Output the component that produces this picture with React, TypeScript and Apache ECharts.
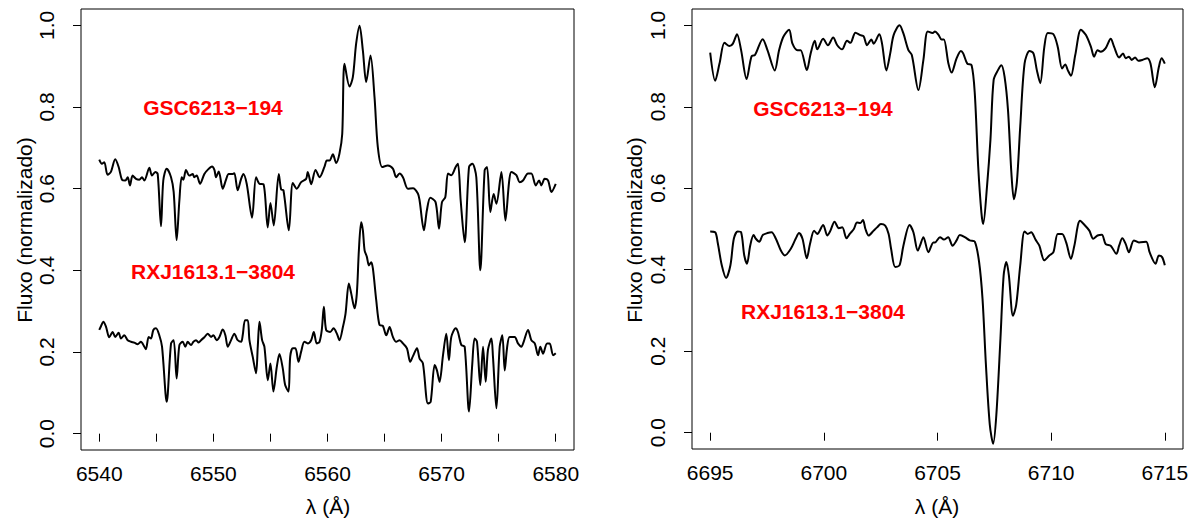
import React, { useEffect, useRef } from "react";
import * as echarts from "echarts";

// ---- Left panel (H-alpha region) ----
const haXTicks = [6540, 6545, 6550, 6555, 6560, 6565, 6570, 6575, 6580];
const haXLabels = [6540, 6550, 6560, 6570, 6580];
const liXTicks = [6695, 6700, 6705, 6710, 6715];
const liXLabels = [6695, 6700, 6705, 6710, 6715];
const yTicks = [0, 0.2, 0.4, 0.6, 0.8, 1.0];

const gscHaLambda = [
  6540.00, 6540.23, 6540.44, 6540.73, 6541.02, 6541.40, 6541.70, 6541.99, 6542.28, 6542.49,
  6542.69, 6542.92, 6543.22, 6543.51, 6543.74, 6543.95, 6544.39, 6544.62, 6544.91, 6545.12,
  6545.41, 6545.61, 6545.91, 6546.29, 6546.52, 6546.78, 6547.02, 6547.22, 6547.37, 6547.60,
  6547.89, 6548.19, 6548.33, 6548.54, 6548.83, 6549.21, 6549.50, 6549.88, 6550.09, 6550.23,
  6550.47, 6550.82, 6551.11, 6551.34, 6551.70, 6551.84, 6552.13, 6552.43, 6552.63, 6552.92,
  6553.39, 6553.74, 6554.04, 6554.39, 6554.76, 6555.00, 6555.29, 6555.73, 6555.94, 6556.14,
  6556.61, 6556.96, 6557.31, 6557.69, 6558.13, 6558.27, 6558.57, 6558.95, 6559.30, 6559.74,
  6559.94, 6560.18, 6560.47, 6560.76, 6561.05, 6561.29, 6561.49, 6561.93, 6562.22, 6562.51,
  6562.81, 6563.10, 6563.39, 6563.77, 6564.12, 6564.41, 6564.80, 6565.29, 6565.73, 6566.02,
  6566.31, 6566.61, 6567.05, 6567.49, 6567.92, 6568.07, 6568.45, 6568.71, 6569.01, 6569.47,
  6569.77, 6570.03, 6570.32, 6570.56, 6570.85, 6571.23, 6571.43, 6571.67, 6572.02, 6572.40,
  6572.69, 6573.04, 6573.39, 6573.77, 6573.98, 6574.27, 6574.56, 6574.80, 6575.24, 6575.59,
  6575.91, 6576.11, 6576.55, 6576.84, 6577.13, 6577.57, 6577.86, 6578.25, 6578.54, 6578.74,
  6579.03, 6579.33, 6579.62, 6580.00,
];
const gscHaFlux = [
  0.671, 0.661, 0.665, 0.634, 0.641, 0.672, 0.653, 0.622, 0.620, 0.628,
  0.608, 0.632, 0.624, 0.622, 0.628, 0.620, 0.651, 0.632, 0.641, 0.636,
  0.508, 0.620, 0.649, 0.628, 0.592, 0.474, 0.571, 0.628, 0.622, 0.646,
  0.632, 0.636, 0.628, 0.632, 0.612, 0.636, 0.646, 0.654, 0.646, 0.628,
  0.642, 0.600, 0.622, 0.636, 0.636, 0.638, 0.596, 0.624, 0.636, 0.612,
  0.529, 0.628, 0.612, 0.611, 0.505, 0.565, 0.510, 0.636, 0.598, 0.596,
  0.498, 0.614, 0.600, 0.616, 0.624, 0.641, 0.611, 0.646, 0.628, 0.654,
  0.669, 0.669, 0.684, 0.663, 0.686, 0.734, 0.906, 0.850, 0.873, 0.955,
  0.999, 0.938, 0.861, 0.926, 0.824, 0.702, 0.653, 0.657, 0.649, 0.628,
  0.637, 0.628, 0.600, 0.601, 0.588, 0.571, 0.498, 0.547, 0.578, 0.567,
  0.502, 0.567, 0.579, 0.637, 0.633, 0.653, 0.661, 0.571, 0.469, 0.653,
  0.661, 0.628, 0.400, 0.645, 0.653, 0.543, 0.587, 0.563, 0.641, 0.522,
  0.616, 0.641, 0.633, 0.616, 0.620, 0.637, 0.637, 0.608, 0.620, 0.608,
  0.624, 0.620, 0.592, 0.612,
];

const rxjHaLambda = [
  6540.00, 6540.15, 6540.35, 6540.58, 6540.88, 6541.17, 6541.40, 6541.70, 6541.90, 6542.19,
  6542.49, 6542.78, 6543.07, 6543.36, 6543.65, 6543.95, 6544.09, 6544.33, 6544.53, 6544.74,
  6544.97, 6545.26, 6545.50, 6545.91, 6546.29, 6546.52, 6546.78, 6547.02, 6547.31, 6547.54,
  6547.75, 6548.04, 6548.25, 6548.48, 6548.71, 6548.92, 6549.21, 6549.50, 6549.80, 6550.00,
  6550.29, 6550.53, 6550.82, 6551.05, 6551.26, 6551.55, 6551.84, 6551.99, 6552.13, 6552.43,
  6552.57, 6552.78, 6553.01, 6553.16, 6553.45, 6553.74, 6553.89, 6554.04, 6554.27, 6554.47,
  6554.77, 6555.00, 6555.26, 6555.56, 6555.79, 6556.08, 6556.29, 6556.58, 6556.73, 6556.96,
  6557.19, 6557.46, 6557.69, 6557.98, 6558.27, 6558.57, 6558.80, 6559.06, 6559.30, 6559.50,
  6559.68, 6559.88, 6560.23, 6560.53, 6560.82, 6561.05, 6561.35, 6561.58, 6561.87, 6562.08,
  6562.37, 6562.57, 6562.75, 6562.95, 6563.10, 6563.25, 6563.45, 6563.63, 6563.83, 6563.98,
  6564.27, 6564.56, 6564.85, 6565.15, 6565.44, 6565.73, 6566.02, 6566.32, 6566.61, 6566.96,
  6567.25, 6567.49, 6567.84, 6568.07, 6568.36, 6568.80, 6569.04, 6569.39, 6569.59, 6569.82,
  6570.12, 6570.41, 6570.64, 6570.85, 6571.23, 6571.43, 6571.73, 6572.02, 6572.40, 6572.69,
  6572.89, 6573.10, 6573.39, 6573.63, 6573.86, 6574.06, 6574.36, 6574.50, 6574.80, 6575.09,
  6575.32, 6575.53, 6575.73, 6575.96, 6576.40, 6576.69, 6576.99, 6577.19, 6577.57, 6577.86,
  6578.16, 6578.45, 6578.65, 6578.89, 6579.24, 6579.47, 6579.77, 6580.00,
];
const rxjHaFlux = [
  0.254, 0.263, 0.274, 0.263, 0.236, 0.249, 0.237, 0.247, 0.233, 0.241,
  0.229, 0.225, 0.223, 0.219, 0.225, 0.213, 0.207, 0.237, 0.233, 0.254,
  0.258, 0.241, 0.213, 0.078, 0.221, 0.229, 0.135, 0.217, 0.225, 0.213,
  0.225, 0.217, 0.225, 0.229, 0.223, 0.229, 0.236, 0.245, 0.237, 0.241,
  0.229, 0.237, 0.255, 0.241, 0.213, 0.229, 0.245, 0.237, 0.229, 0.225,
  0.241, 0.278, 0.278, 0.229, 0.188, 0.148, 0.213, 0.274, 0.229, 0.213,
  0.131, 0.172, 0.103, 0.164, 0.195, 0.160, 0.119, 0.103, 0.188, 0.209,
  0.209, 0.176, 0.201, 0.225, 0.221, 0.229, 0.249, 0.221, 0.225, 0.254,
  0.311, 0.254, 0.249, 0.258, 0.245, 0.229, 0.261, 0.294, 0.368, 0.343,
  0.307, 0.343, 0.449, 0.518, 0.498, 0.449, 0.433, 0.412, 0.420, 0.404,
  0.327, 0.266, 0.264, 0.241, 0.261, 0.237, 0.225, 0.229, 0.221, 0.209,
  0.176, 0.190, 0.209, 0.184, 0.172, 0.074, 0.078, 0.168, 0.155, 0.127,
  0.192, 0.245, 0.180, 0.237, 0.258, 0.249, 0.217, 0.213, 0.054, 0.172,
  0.233, 0.225, 0.119, 0.213, 0.127, 0.205, 0.233, 0.188, 0.062, 0.213,
  0.241, 0.155, 0.209, 0.237, 0.237, 0.221, 0.213, 0.225, 0.254, 0.229,
  0.221, 0.192, 0.213, 0.196, 0.221, 0.221, 0.192, 0.197,
];

// ---- Right panel (Li I 6708 region) ----
const gscLiLambda = [
  6695.00, 6695.22, 6695.41, 6695.63, 6695.85, 6696.00, 6696.18, 6696.36, 6696.60, 6696.82,
  6696.97, 6697.31, 6697.52, 6697.84, 6698.03, 6698.22, 6698.47, 6698.62, 6698.84, 6698.98,
  6699.25, 6699.42, 6699.60, 6699.71, 6699.97, 6700.18, 6700.41, 6700.59, 6700.80, 6701.02,
  6701.17, 6701.39, 6701.61, 6701.75, 6701.90, 6702.09, 6702.19, 6702.44, 6702.56, 6702.75,
  6702.92, 6703.07, 6703.33, 6703.50, 6703.72, 6703.87, 6704.16, 6704.38, 6704.57, 6704.79,
  6704.89, 6705.04, 6705.18, 6705.28, 6705.48, 6705.62, 6705.84, 6706.03, 6706.13, 6706.31,
  6706.50, 6706.64, 6706.79, 6706.93, 6707.01, 6707.18, 6707.33, 6707.47, 6707.66, 6707.81,
  6707.95, 6708.10, 6708.25, 6708.36, 6708.49, 6708.64, 6708.83, 6709.05, 6709.22, 6709.37,
  6709.52, 6709.70, 6709.85, 6710.10, 6710.29, 6710.48, 6710.62, 6710.73, 6710.87, 6711.06,
  6711.31, 6711.53, 6711.75, 6711.89, 6712.04, 6712.18, 6712.40, 6712.62, 6712.77, 6712.99,
  6713.16, 6713.28, 6713.42, 6713.54, 6713.69, 6713.83, 6714.01, 6714.23, 6714.37, 6714.56,
  6714.74, 6714.86, 6715.00,
];
const gscLiFlux = [
  0.933, 0.864, 0.906, 0.957, 0.949, 0.955, 0.978, 0.939, 0.868, 0.924,
  0.927, 0.966, 0.939, 0.889, 0.939, 0.972, 0.989, 0.955, 0.939, 0.939,
  0.890, 0.931, 0.962, 0.941, 0.967, 0.951, 0.970, 0.951, 0.941, 0.962,
  0.957, 0.982, 0.976, 0.973, 0.951, 0.965, 0.955, 0.978, 0.955, 0.889,
  0.931, 0.976, 1.000, 0.980, 0.939, 0.927, 0.841, 0.915, 0.985, 0.981,
  0.985, 0.977, 0.965, 0.965, 0.906, 0.884, 0.919, 0.937, 0.931, 0.906,
  0.902, 0.833, 0.654, 0.541, 0.512, 0.606, 0.720, 0.866, 0.890, 0.902,
  0.874, 0.793, 0.638, 0.573, 0.614, 0.752, 0.906, 0.937, 0.931, 0.890,
  0.858, 0.947, 0.981, 0.978, 0.947, 0.894, 0.904, 0.890, 0.876, 0.927,
  0.989, 0.976, 0.947, 0.923, 0.939, 0.935, 0.944, 0.967, 0.947, 0.921,
  0.931, 0.919, 0.923, 0.915, 0.921, 0.913, 0.915, 0.919, 0.906, 0.848,
  0.898, 0.919, 0.906,
];

const rxjLiLambda = [
  6695.00, 6695.22, 6695.33, 6695.51, 6695.70, 6695.89, 6696.04, 6696.21, 6696.36, 6696.50,
  6696.62, 6696.76, 6696.91, 6697.01, 6697.16, 6697.31, 6697.52, 6697.70, 6697.89, 6698.11,
  6698.28, 6698.54, 6698.76, 6698.91, 6699.06, 6699.25, 6699.39, 6699.57, 6699.71, 6699.97,
  6700.15, 6700.29, 6700.47, 6700.66, 6700.81, 6701.00, 6701.14, 6701.32, 6701.46, 6701.61,
  6701.72, 6701.83, 6701.97, 6702.19, 6702.34, 6702.51, 6702.70, 6702.85, 6702.96, 6703.14,
  6703.33, 6703.50, 6703.77, 6703.94, 6704.13, 6704.23, 6704.38, 6704.60, 6704.82, 6704.89,
  6705.11, 6705.28, 6705.47, 6705.66, 6705.84, 6705.98, 6706.20, 6706.42, 6706.64, 6706.83,
  6706.98, 6707.13, 6707.30, 6707.45, 6707.59, 6707.77, 6707.91, 6708.03, 6708.14, 6708.32,
  6708.46, 6708.64, 6708.83, 6708.97, 6709.12, 6709.31, 6709.48, 6709.70, 6709.92, 6710.10,
  6710.29, 6710.48, 6710.66, 6710.87, 6711.02, 6711.27, 6711.50, 6711.68, 6711.85, 6712.04,
  6712.23, 6712.40, 6712.62, 6712.87, 6712.99, 6713.13, 6713.28, 6713.42, 6713.64, 6713.86,
  6714.18, 6714.33, 6714.59, 6714.74, 6714.88, 6715.00,
];
const rxjLiFlux = [
  0.494, 0.492, 0.467, 0.411, 0.380, 0.411, 0.476, 0.494, 0.492, 0.435,
  0.415, 0.459, 0.485, 0.476, 0.469, 0.485, 0.490, 0.492, 0.476, 0.447,
  0.435, 0.451, 0.476, 0.490, 0.476, 0.428, 0.463, 0.496, 0.488, 0.510,
  0.484, 0.496, 0.518, 0.502, 0.504, 0.477, 0.488, 0.500, 0.516, 0.515,
  0.522, 0.500, 0.484, 0.496, 0.504, 0.512, 0.508, 0.488, 0.451, 0.407,
  0.411, 0.459, 0.510, 0.492, 0.447, 0.459, 0.480, 0.443, 0.467, 0.467,
  0.480, 0.474, 0.480, 0.459, 0.472, 0.485, 0.480, 0.472, 0.469, 0.419,
  0.329, 0.167, 0.020, -0.027, 0.045, 0.232, 0.386, 0.419, 0.386, 0.287,
  0.313, 0.411, 0.494, 0.488, 0.492, 0.474, 0.459, 0.423, 0.435, 0.443,
  0.488, 0.488, 0.467, 0.427, 0.459, 0.520, 0.508, 0.496, 0.476, 0.484,
  0.486, 0.463, 0.459, 0.439, 0.459, 0.477, 0.463, 0.443, 0.472, 0.467,
  0.469, 0.443, 0.415, 0.435, 0.431, 0.411,
];

const starNames = ["GSC6213\u2212194", "RXJ1613.1\u22123804"];
const yTitle = "Fluxo (normalizado)";
const xTitle = "\u03bb (\u00c5)";

const FONT = "Liberation Sans, Arial, Helvetica, sans-serif";

function zip(xs: number[], ys: number[]) {
  return xs.map((x, i) => [x, ys[i]]);
}

function xAxis(grid: number, min: number, max: number, ticks: number[], labels: number[]) {
  return {
    type: "value",
    gridIndex: grid,
    min,
    max,
    axisLine: { show: false },
    axisTick: { show: true, length: 8, customValues: ticks, lineStyle: { color: "#000", width: 1 } },
    axisLabel: {
      customValues: labels,
      formatter: (v: number) => String(Math.round(v)),
      fontSize: 21,
      color: "#000",
      fontFamily: FONT,
      margin: 13,
    },
    splitLine: { show: false },
  };
}

function yAxis(grid: number) {
  return {
    type: "value",
    gridIndex: grid,
    min: -0.04,
    max: 1.04,
    axisLine: { show: false },
    axisTick: { show: true, length: 8, customValues: yTicks, lineStyle: { color: "#000", width: 1 } },
    axisLabel: {
      customValues: yTicks,
      formatter: (v: number) => v.toFixed(1),
      rotate: 90,
      fontSize: 21,
      color: "#000",
      fontFamily: FONT,
      margin: 24,
    },
    splitLine: { show: false },
  };
}

function lineSeries(xi: number, data: number[][]) {
  return {
    type: "line",
    xAxisIndex: xi,
    yAxisIndex: xi,
    data,
    showSymbol: false,
    smooth: 0.3,
    clip: false,
    lineStyle: { color: "#000", width: 2 },
    silent: true,
  };
}

function label(text: string, x: number, y: number) {
  return {
    type: "text",
    x,
    y,
    style: {
      text,
      fill: "#ff0000",
      font: `bold 21px ${FONT}`,
      align: "center",
      verticalAlign: "middle",
    },
  };
}

function title(text: string, x: number, y: number, rot: number) {
  return {
    type: "text",
    x,
    y,
    rotation: rot,
    style: {
      text,
      fill: "#000",
      font: `21px ${FONT}`,
      align: "center",
      verticalAlign: "middle",
    },
  };
}

export default function App() {
  const ref = useRef<HTMLDivElement>(null);
  useEffect(() => {
    if (!ref.current) return;
    const chart = echarts.init(ref.current, null, { renderer: "svg" });
    chart.setOption({
      animation: false,
      backgroundColor: "#fff",
      grid: [
        { left: 81, top: 9, width: 493, height: 441, show: true, borderColor: "#000", borderWidth: 1, backgroundColor: "transparent" },
        { left: 692, top: 9, width: 491, height: 440, show: true, borderColor: "#000", borderWidth: 1, backgroundColor: "transparent" },
      ],
      xAxis: [
        xAxis(0, 6538.4, 6581.6, haXTicks, haXLabels),
        xAxis(1, 6694.2, 6715.8, liXTicks, liXLabels),
      ],
      yAxis: [yAxis(0), yAxis(1)],
      series: [
        lineSeries(0, zip(gscHaLambda, gscHaFlux)),
        lineSeries(0, zip(rxjHaLambda, rxjHaFlux)),
        lineSeries(1, zip(gscLiLambda, gscLiFlux)),
        lineSeries(1, zip(rxjLiLambda, rxjLiFlux)),
      ],
      graphic: [
        label(starNames[0], 213, 107),
        label(starNames[1], 213, 271),
        label(starNames[0], 823, 108),
        label(starNames[1], 823, 311),
        title(xTitle, 328, 506, 0),
        title(xTitle, 937, 506, 0),
        title(yTitle, 24, 230, Math.PI / 2),
        title(yTitle, 634, 230, Math.PI / 2),
      ],
    });
    return () => chart.dispose();
  }, []);
  return (
    <div
      ref={ref}
      style={{ position: "fixed", left: 0, top: 0, width: 1201, height: 518, background: "#fff" }}
    />
  );
}
